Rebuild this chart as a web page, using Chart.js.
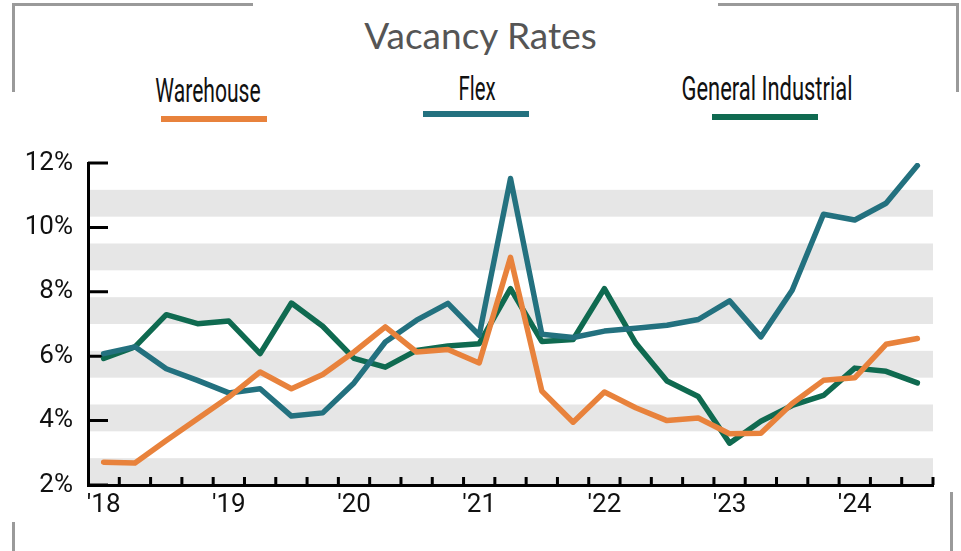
<!DOCTYPE html>
<html>
<head>
<meta charset="utf-8">
<script src="https://cdn.jsdelivr.net/npm/chart.js@4.4.1/dist/chart.umd.min.js"></script>
<style>
    html, body { margin: 0; padding: 0; background: #fff; }
    #wrap { position: relative; width: 961px; height: 551px; overflow: hidden; }
    #chart { position: absolute; left: 0; top: 0; }
    .frame { position: absolute; background: #9a9a9a; }
    #title {
        position: absolute; left: 0; top: 16px; width: 961px; text-align: center;
        font: 400 37px Lato, sans-serif; line-height: 37px; color: #555;
    }
    .legend-label {
        position: absolute; width: 400px; text-align: center; white-space: nowrap;
        font: 400 34px Roboto, sans-serif; line-height: 34px; color: #111;
        transform-origin: center;
    }
    .legend-bar { position: absolute; width: 106px; height: 6px; }
</style>
</head>
<body>
<div id="wrap">
    <div class="frame" style="left:12px; top:3px; width:241px; height:3px;"></div>
    <div class="frame" style="left:12px; top:3px; width:3px; height:89px;"></div>
    <div class="frame" style="left:718px; top:3px; width:241px; height:3px;"></div>
    <div class="frame" style="left:956px; top:3px; width:3px; height:89px;"></div>
    <div class="frame" style="left:12px; top:522px; width:3px; height:29px;"></div>
    <div class="frame" style="left:950px; top:492px; width:3px; height:59px;"></div>
    <div id="title">Vacancy Rates</div>
    <div id="legend"></div>
    <canvas id="chart" width="961" height="551"></canvas>
</div>
<script>
const quarters = [
    "2018 Q1", "2018 Q2", "2018 Q3", "2018 Q4",
    "2019 Q1", "2019 Q2", "2019 Q3", "2019 Q4",
    "2020 Q1", "2020 Q2", "2020 Q3", "2020 Q4",
    "2021 Q1", "2021 Q2", "2021 Q3", "2021 Q4",
    "2022 Q1", "2022 Q2", "2022 Q3", "2022 Q4",
    "2023 Q1", "2023 Q2", "2023 Q3", "2023 Q4",
    "2024 Q1", "2024 Q2", "2024 Q3"
];
const yearTicks = ["'18", "'19", "'20", "'21", "'22", "'23", "'24"];

const warehouse = [2.71, 2.68, 3.38, 4.06, 4.73, 5.51, 4.99, 5.43, 6.13, 6.91, 6.13, 6.21, 5.79, 9.07,
    4.92, 3.95, 4.89, 4.40, 4.00, 4.08, 3.59, 3.61, 4.53, 5.25, 5.33, 6.37, 6.55];
const flex = [6.08, 6.29, 5.61, 5.25, 4.86, 4.99, 4.14, 4.24, 5.17, 6.44, 7.12, 7.64, 6.65, 11.52,
    6.68, 6.58, 6.78, 6.87, 6.96, 7.14, 7.72, 6.60, 8.05, 10.41, 10.23, 10.75, 11.92];
const generalIndustrial = [5.93, 6.29, 7.29, 7.01, 7.09, 6.08, 7.65, 6.93, 5.93, 5.66, 6.18, 6.32, 6.39, 8.10,
    6.46, 6.52, 8.10, 6.41, 5.23, 4.75, 3.30, 3.98, 4.47, 4.78, 5.63, 5.53, 5.17];

const seriesNames = ["Warehouse", "Flex", "General Industrial"];

(() => {
    const colors = {
        warehouse: "#e8823c",
        flex: "#23717f",
        generalIndustrial: "#0f6a50",
        band: "#e6e6e6",
        axis: "#000"
    };

    // legend placement (text centre / top / squeeze, bar left / top)
    const legendLayout = [
        { textX: 208, textTop: 73, squeeze: 0.62, barX: 161, barY: 116 },
        { textX: 477, textTop: 71, squeeze: 0.6, barX: 423, barY: 111 },
        { textX: 767, textTop: 71, squeeze: 0.645, barX: 712, barY: 114 }
    ];

    const lineStyle = {
        borderWidth: 5.5,
        pointRadius: 0,
        tension: 0,
        borderCapStyle: "round",
        borderJoinStyle: "round",
        fill: false
    };

    const datasets = [
        { label: seriesNames[0], data: warehouse, borderColor: colors.warehouse, ...lineStyle },
        { label: seriesNames[1], data: flex, borderColor: colors.flex, ...lineStyle },
        { label: seriesNames[2], data: generalIndustrial, borderColor: colors.generalIndustrial, ...lineStyle }
    ];

    const legendEl = document.getElementById("legend");
    datasets.forEach((ds, i) => {
        const pos = legendLayout[i];
        const label = document.createElement("div");
        label.className = "legend-label";
        label.textContent = ds.label;
        label.style.left = (pos.textX - 200) + "px";
        label.style.top = pos.textTop + "px";
        label.style.transform = `scaleX(${pos.squeeze})`;
        legendEl.appendChild(label);

        const bar = document.createElement("div");
        bar.className = "legend-bar";
        bar.style.left = pos.barX + "px";
        bar.style.top = pos.barY + "px";
        bar.style.background = ds.borderColor;
        legendEl.appendChild(bar);
    });

    const bandCount = 12;
    const bandsPlugin = {
        id: "bands",
        beforeDraw(chart) {
            const { ctx, chartArea, scales } = chart;
            const y = scales.y;
            const step = (y.max - y.min) / bandCount;
            ctx.save();
            ctx.fillStyle = colors.band;
            for (let k = 0; k < bandCount; k += 2) {
                const top = y.getPixelForValue(y.min + (k + 1) * step);
                const bottom = y.getPixelForValue(y.min + k * step);
                ctx.fillRect(chartArea.left, top, chartArea.right - chartArea.left, bottom - top);
            }
            ctx.restore();
        }
    };

    const tickMarksPlugin = {
        id: "tickMarks",
        beforeDatasetsDraw(chart) {
            const { ctx, chartArea, scales } = chart;
            ctx.save();
            ctx.strokeStyle = colors.axis;
            ctx.lineWidth = 3;
            ctx.beginPath();
            scales.y.ticks.forEach((t) => {
                const py = scales.y.getPixelForValue(t.value);
                ctx.moveTo(chartArea.left, py);
                ctx.lineTo(chartArea.left + 20, py);
            });
            for (let i = 1; i <= quarters.length; i++) {
                const px = scales.x.getPixelForValue(i - 0.5);
                ctx.moveTo(px, chartArea.bottom);
                ctx.lineTo(px, chartArea.bottom - 8);
            }
            ctx.stroke();
            ctx.restore();
        }
    };

    new Chart(document.getElementById("chart"), {
        type: "line",
        data: { labels: quarters, datasets },
        plugins: [bandsPlugin, tickMarksPlugin],
        options: {
            responsive: false,
            animation: false,
            devicePixelRatio: 1,
            layout: { padding: { top: 163, right: 28, bottom: 0, left: 0 } },
            plugins: { legend: { display: false }, tooltip: { enabled: false }, title: { display: false } },
            scales: {
                x: {
                    type: "category",
                    offset: true,
                    grid: { display: false, drawTicks: false },
                    border: { display: true, color: colors.axis, width: 3 },
                    ticks: {
                        autoSkip: false,
                        maxRotation: 0,
                        padding: 5,
                        color: "#111",
                        font: { family: "Roboto", size: 26 },
                        callback: (value, index) => (index % 4 === 0 ? yearTicks[index / 4] : "")
                    },
                    afterFit: (scale) => { scale.height = 66; }
                },
                y: {
                    min: 2,
                    max: 12,
                    grid: { display: false, drawTicks: false },
                    border: { display: true, color: colors.axis, width: 3 },
                    ticks: {
                        stepSize: 2,
                        padding: 15,
                        color: "#111",
                        font: { family: "Roboto", size: 26 },
                        callback: (v) => v + "%"
                    },
                    afterFit: (scale) => { scale.width = 88; }
                }
            }
        }
    });
})();
</script>
</body>
</html>
